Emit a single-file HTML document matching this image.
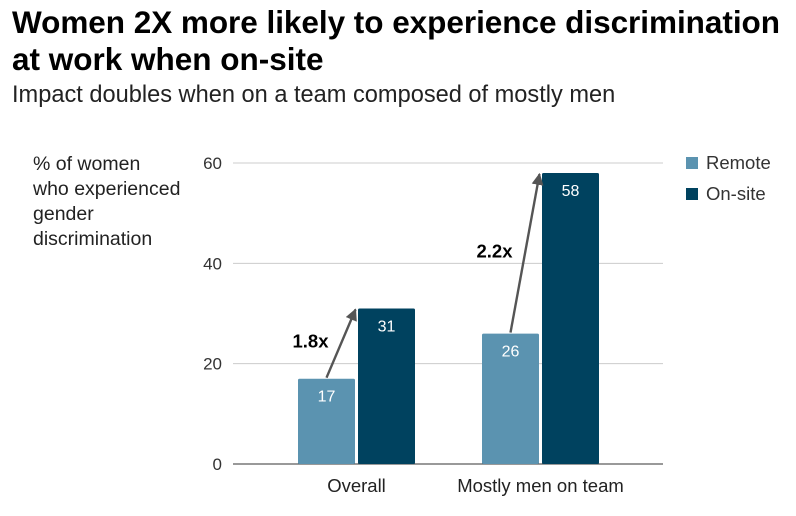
<!DOCTYPE html>
<html><head><meta charset="utf-8"><style>
body{margin:0;background:#fff;width:796px;height:511px;overflow:hidden;font-family:"Liberation Sans",sans-serif}
</style></head><body>
<svg width="796" height="511" xmlns="http://www.w3.org/2000/svg" font-family="Liberation Sans, sans-serif">
<text x="12" y="33" font-size="31.5" font-weight="bold" fill="#000" textLength="768">Women 2X more likely to experience discrimination</text>
<text x="12" y="70" font-size="31.5" font-weight="bold" fill="#000">at work when on-site</text>
<text x="12" y="102" font-size="23.6" fill="#222">Impact doubles when on a team composed of mostly men</text>
<g font-size="19.5" fill="#222">
<text x="33" y="170">% of women</text><text x="33" y="195">who experienced</text><text x="33" y="220">gender</text><text x="33" y="245">discrimination</text>
</g>
<g id="grid"></g><g id="bars"></g><g id="anno"></g>
<g>
<rect x="686" y="157" width="12" height="12" fill="#5b93b0"/>
<text x="706" y="169" font-size="18.5" fill="#333">Remote</text>
<rect x="686" y="188" width="12" height="12" fill="#00425f"/>
<text x="706" y="200" font-size="18.5" fill="#333">On-site</text>
</g>
<defs><marker id="ah" viewBox="0 0 10 10" refX="9" refY="5" markerWidth="5" markerHeight="5" markerUnits="strokeWidth" orient="auto"><path d="M0,0L10,5L0,10z" fill="#555"/></marker></defs>
</svg>
<script>
const categories=["Overall","Mostly men on team"];
const remote=[17,26];
const onsite=[31,58];
const multipliers=["1.8x","2.2x"];
const yTicks=[0,20,40,60];
const NS="http://www.w3.org/2000/svg";
const y=v=>464-v*(301/60);
const cx=i=>356.5+i*184;
function mk(tag,attrs,parent,txt){const e=document.createElementNS(NS,tag);for(const k in attrs)e.setAttribute(k,attrs[k]);if(txt!==undefined)e.textContent=txt;document.getElementById(parent).appendChild(e);return e;}
yTicks.forEach(t=>{
 const l=mk('line',{x1:233,x2:663,y1:y(t),y2:y(t),stroke:t===0?'#333':'#ccc','stroke-width':1},'grid');
 
 
 const tx=mk('text',{x:222,y:y(t)+6,'text-anchor':'end','font-size':17,fill:'#333'},'grid',String(t));
 
 
});
categories.forEach((c,i)=>{
 const c0=cx(i);
 const r=mk('rect',{x:c0-58.5,y:y(remote[i]),width:57,height:464-y(remote[i]),fill:'#5b93b0',rx:1.5},'bars');
 
 
 const o=mk('rect',{x:c0+1.5,y:y(onsite[i]),width:57,height:464-y(onsite[i]),fill:'#00425f',rx:1.5},'bars');
 
 
 const rl=mk('text',{x:c0-30,y:y(remote[i])+23,'text-anchor':'middle','font-size':16,fill:'#fff'},'bars',String(remote[i]));
 
 
 const ol=mk('text',{x:c0+30,y:y(onsite[i])+23,'text-anchor':'middle','font-size':16,fill:'#fff'},'bars',String(onsite[i]));
 
 
 const cl=mk('text',{x:c0,y:492,'text-anchor':'middle','font-size':18.5,fill:'#222'},'bars',c);
 
 
 const a=mk('line',{x1:c0-30,y1:y(remote[i])-1,x2:c0-1,y2:y(onsite[i])+1,stroke:'#555','stroke-width':2.4,'marker-end':'url(#ah)'},'anno');
 
 
 const mx=(y(remote[i])+y(onsite[i]))/2;
 const m=mk('text',{x:c0-28,y:mx+4,'text-anchor':'end','font-size':18.5,'font-weight':'bold',fill:'#000'},'anno',multipliers[i]);
 
 
});
</script>
</body></html>
